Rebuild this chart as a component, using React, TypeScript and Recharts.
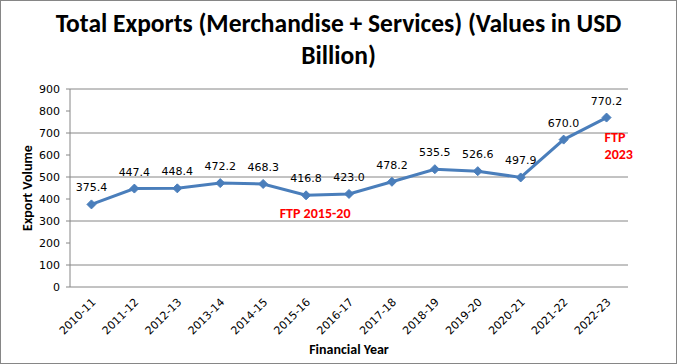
import { LineChart, Line, XAxis, YAxis, CartesianGrid, LabelList, ReferenceDot, Label } from 'recharts';

// Financial years and total exports (USD billion)
const years = [
  '2010-11', '2011-12', '2012-13', '2013-14', '2014-15', '2015-16', '2016-17',
  '2017-18', '2018-19', '2019-20', '2020-21', '2021-22', '2022-23',
];
const exportsUsd = [375.4, 447.4, 448.4, 472.2, 468.3, 416.8, 423.0, 478.2, 535.5, 526.6, 497.9, 670.0, 770.2];
const yTicks = [0, 100, 200, 300, 400, 500, 600, 700, 800, 900];

// FTP annotations: text lines, anchor category and value
const noteLines = [['FTP 2015-20'], ['FTP', '2023']];
const noteYears = ['2015-16', '2022-23'];
const noteValues = [336, 641];

const data = years.map((year, i) => ({ year, value: exportsUsd[i] }));
const edgeTicks = [...years.map((_, i) => i), years.length];

const TICK_FONT = '"DejaVu Sans", Tahoma, sans-serif';
const TITLE_FONT = '"Liberation Sans Narrow", Calibri, "Liberation Sans", sans-serif';

const Diamond = (props: any) => {
  const { cx, cy } = props;
  if (cx == null || cy == null) return null;
  const s = 4.5;
  return (
    <polygon
      points={`${cx},${cy - s} ${cx + s},${cy} ${cx},${cy + s} ${cx - s},${cy}`}
      fill="#4A7EBB"
      stroke="#4A7EBB"
    />
  );
};

const YearTick = (props: any) => {
  const { x, y, payload } = props;
  return (
    <text
      x={x}
      y={y}
      dx={-2}
      dy={9}
      transform={`rotate(-45, ${x}, ${y})`}
      textAnchor="end"
      fontFamily={TICK_FONT}
      fontSize={11}
      fill="#000"
    >
      {payload.value}
    </text>
  );
};

const noteShape = (lines: string[], anchor: 'middle' | 'start', dx: number) => (props: any) => {
  const { cx, cy } = props;
  const top = cy - ((lines.length - 1) * 17) / 2;
  return (
    <text
      x={cx + dx}
      textAnchor={anchor}
      fontFamily={TITLE_FONT}
      fontWeight="bold"
      fontSize={14}
      fill="#FF0000"
    >
      {lines.map((l, i) => (
        <tspan key={i} x={cx + dx} y={top + i * 17} dy={5}>
          {l}
        </tspan>
      ))}
    </text>
  );
};

export default function App() {
  return (
    <div
      style={{
        position: 'absolute',
        left: 0,
        top: 0,
        width: 677,
        height: 364,
        background: '#fff',
        border: '1px solid #868686',
        boxSizing: 'border-box',
      }}
    >
      <div
        style={{
          position: 'absolute',
          left: 0,
          top: 7,
          width: 675,
          textAlign: 'center',
          fontFamily: TITLE_FONT,
          fontWeight: 'bold',
          fontSize: 25.5,
          lineHeight: '32px',
          color: '#000',
        }}
      >
        Total Exports (Merchandise + Services) (Values in USD
        <br />
        Billion)
      </div>
      <div style={{ position: 'absolute', left: -1, top: -1 }}>
        <LineChart width={677} height={364} data={data} margin={{ top: 89, right: 49, left: 20, bottom: 5 }}>
          <CartesianGrid stroke="#868686" vertical={false} />
          <XAxis
            xAxisId="edges"
            type="number"
            domain={[0, years.length]}
            ticks={edgeTicks}
            tick={false}
            tickSize={5}
            tickLine={{ stroke: '#868686' }}
            axisLine={{ stroke: '#868686' }}
            height={0}
            allowDataOverflow
          />
          <XAxis
            dataKey="year"
            scale="band"
            interval={0}
            tick={<YearTick />}
            tickLine={false}
            axisLine={false}
            height={72}
          >
            <Label
              value="Financial Year"
              position="insideBottom"
              offset={5}
              style={{ fontFamily: TITLE_FONT, fontWeight: 'bold', fontSize: 14, fill: '#000' }}
            />
          </XAxis>
          <YAxis
            domain={[0, 900]}
            ticks={yTicks}
            width={50}
            tickSize={4}
            tickMargin={6}
            tickLine={{ stroke: '#868686' }}
            axisLine={{ stroke: '#868686' }}
            tick={{ fontFamily: TICK_FONT, fontSize: 11, fill: '#000' }}
          >
            <Label
              content={(p: any) => {
                const vb = p.viewBox;
                const cx = 27;
                const cy = vb.y + vb.height / 2;
                return (
                  <text
                    x={cx}
                    y={cy}
                    transform={`rotate(-90, ${cx}, ${cy})`}
                    textAnchor="middle"
                    dominantBaseline="central"
                    fontFamily={TITLE_FONT}
                    fontWeight="bold"
                    fontSize={14}
                    fill="#000"
                  >
                    Export Volume
                  </text>
                );
              }}
            />
          </YAxis>
          <Line
            type="linear"
            dataKey="value"
            stroke="#4A7EBB"
            strokeWidth={3}
            dot={<Diamond />}
            activeDot={false}
            isAnimationActive={false}
          >
            <LabelList
              dataKey="value"
              position="top"
              offset={13}
              formatter={(v: any) => Number(v).toFixed(1)}
              style={{ fontFamily: TICK_FONT, fontSize: 11, fill: '#000' }}
            />
          </Line>
          {noteLines.map((lines, i) => (
            <ReferenceDot
              key={i}
              x={noteYears[i]}
              y={noteValues[i]}
              r={0}
              shape={noteShape(lines, i === 0 ? 'middle' : 'start', i === 0 ? 9 : -2)}
            />
          ))}
        </LineChart>
      </div>
    </div>
  );
}
